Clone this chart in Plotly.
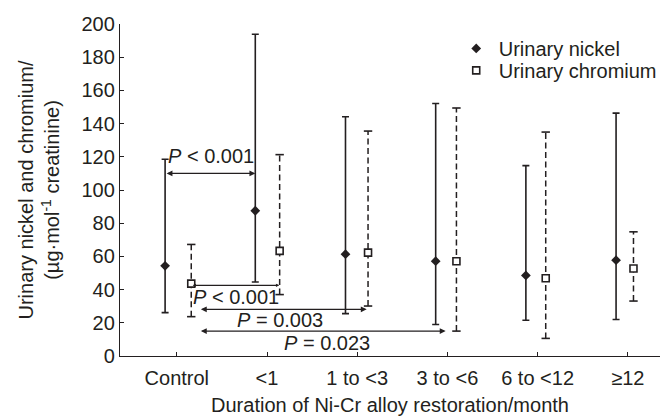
import plotly.graph_objects as go

# ---- data ----
categories = ["Control", "<1", "1 to <3", "3 to <6", "6 to <12", "≥12"]

nickel_median = [54.3, 87.5, 61.3, 57.1, 48.5, 57.7]
nickel_upper = [118.5, 193.8, 144.1, 152.1, 114.7, 146.3]
nickel_lower = [26.1, 44.6, 25.5, 19.0, 21.5, 22.0]

chromium_median = [43.6, 63.3, 62.3, 57.1, 46.8, 52.7]
chromium_upper = [67.2, 121.3, 135.5, 149.4, 134.9, 74.8]
chromium_lower = [23.7, 37.0, 30.1, 15.0, 10.6, 33.1]

y_ticks = [0, 20, 40, 60, 80, 100, 120, 140, 160, 180, 200]

# comparisons: (from x, to x, y of bracket, label, label x, label y, head size)
comparisons = [
    (-0.13, 0.87, 110.0, "<i>P</i> < 0.001", 0.376, 120.7, 0.9),
    (0.16, 1.135, 42.6, "<i>P</i> < 0.001", 0.652, 35.5, 0.5),
    (0.25, 2.105, 28.1, "<i>P</i> = 0.003", 1.14, 21.5, 0.9),
    (0.25, 2.98, 15.0, "<i>P</i> = 0.023", 1.666, 8.0, 0.9),
]

# ---- positions / styles ----
ni_offset = -0.13
cr_offsets = [0.16, 0.14, 0.12, 0.10, 0.09, 0.063]
ink = "#231f20"
font_family = "Liberation Sans, Arial, Helvetica, sans-serif"

idx = list(range(len(categories)))
ni_x = [i + ni_offset for i in idx]
cr_x = [i + o for i, o in zip(idx, cr_offsets)]

fig = go.Figure()

# Nickel: filled diamonds with solid whiskers
fig.add_trace(go.Scatter(
    x=ni_x, y=nickel_median, mode="markers", name="Urinary nickel",
    legend="legend",
    marker=dict(symbol="diamond", size=7.5, color=ink),
    error_y=dict(type="data", symmetric=False,
                 array=[u - m for u, m in zip(nickel_upper, nickel_median)],
                 arrayminus=[m - l for m, l in zip(nickel_median, nickel_lower)],
                 color=ink, thickness=1.6, width=3.5),
))

# Chromium whiskers (dashed)
wx, wy = [], []
for x, lo, hi in zip(cr_x, chromium_lower, chromium_upper):
    wx += [x, x, None]
    wy += [lo, hi, None]
fig.add_trace(go.Scatter(
    x=wx, y=wy, mode="lines", showlegend=False, hoverinfo="skip",
    line=dict(color=ink, width=1.5, dash="6px,3.5px"),
))
# Chromium caps
fig.add_trace(go.Scatter(
    x=cr_x + cr_x, y=chromium_lower + chromium_upper, mode="markers",
    showlegend=False, hoverinfo="skip",
    marker=dict(symbol="line-ew", size=6, line=dict(color=ink, width=1.6)),
))
# Chromium markers: open squares
fig.add_trace(go.Scatter(
    x=cr_x, y=chromium_median, mode="markers", name="Urinary chromium",
    legend="legend2",
    marker=dict(symbol="square", size=7, color="white",
                line=dict(color=ink, width=1.6)),
))

annotations = []
for x0, x1, yb, label, tx, ty, hs in comparisons:
    annotations.append(dict(
        x=x1, y=yb, ax=x0, ay=yb, xref="x", yref="y", axref="x", ayref="y",
        text="", showarrow=True, arrowhead=2, startarrowhead=2,
        arrowside="end+start", arrowsize=hs, startarrowsize=hs,
        arrowwidth=1.3, arrowcolor=ink,
    ))
    annotations.append(dict(
        x=tx, y=ty, xref="x", yref="y", text=label, showarrow=False,
        font=dict(size=20, color=ink, family=font_family),
        xanchor="center", yanchor="middle",
    ))

legend_style = dict(xanchor="left", yanchor="top", bgcolor="rgba(0,0,0,0)",
                    font=dict(size=20), itemwidth=35)

fig.update_layout(
    width=669, height=416,
    margin=dict(l=120, r=7, t=24, b=60),
    paper_bgcolor="white", plot_bgcolor="white",
    font=dict(family=font_family, size=20, color=ink),
    showlegend=True,
    legend=dict(x=0.618, y=0.985, **legend_style),
    legend2=dict(x=0.618, y=0.919, **legend_style),
    annotations=annotations,
    xaxis=dict(
        range=[-0.63, 5.357], tickmode="array", tickvals=idx,
        ticktext=categories, ticks="inside", ticklen=4, tickwidth=1.2,
        tickcolor=ink, showline=True, linecolor=ink, linewidth=1.3,
        showgrid=False, zeroline=False, ticklabelstandoff=4,
        title=dict(text="Duration of Ni-Cr alloy restoration/month",
                   standoff=11, font=dict(size=20)),
        automargin=False,
    ),
    yaxis=dict(
        range=[0, 200], tickmode="array", tickvals=y_ticks,
        ticks="inside", ticklen=4, tickwidth=1.2, tickcolor=ink,
        showline=True, linecolor=ink, linewidth=1.3,
        showgrid=False, zeroline=False, ticklabelstandoff=0,
        title=dict(text="Urinary nickel and chromium/<br>(µg·mol<sup>-1</sup> creatinine)",
                   standoff=16, font=dict(size=20)),
        automargin=False,
    ),
)

fig.write_html(
    "out.html",
    config={"displayModeBar": False},
    post_script="document.body.style.margin='0';document.body.style.overflow='hidden';",
)
